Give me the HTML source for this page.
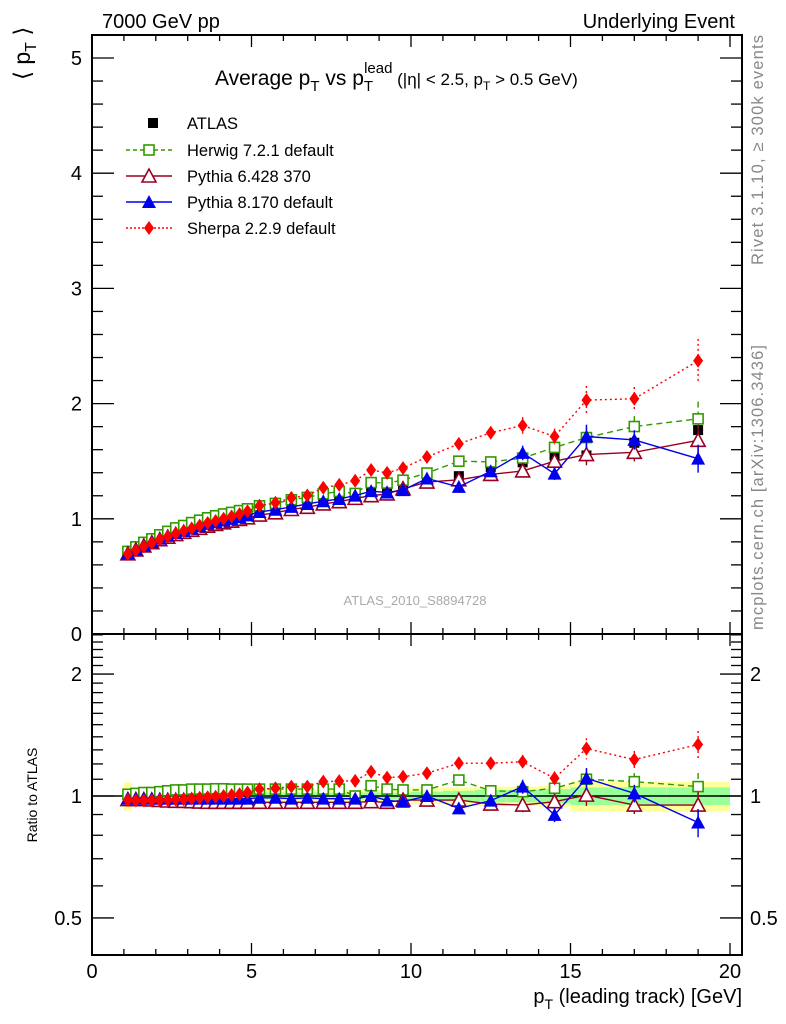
<!DOCTYPE html>
<html><head><meta charset="utf-8"><style>
body{margin:0;background:#fff;}
svg{display:block;font-family:"Liberation Sans",sans-serif;}
</style></head><body>
<svg id="c" width="786" height="1024" viewBox="0 0 786 1024"></svg>
<script>
const xs=[1.125,1.375,1.625,1.875,2.125,2.375,2.625,2.875,3.125,3.375,3.625,3.875,4.125,4.375,4.625,4.875,5.25,5.75,6.25,6.75,7.25,7.75,8.25,8.75,9.25,9.75,10.5,11.5,12.5,13.5,14.5,15.5,17,19];
const xlo=[1,1.25,1.5,1.75,2,2.25,2.5,2.75,3,3.25,3.5,3.75,4,4.25,4.5,4.75,5,5.5,6,6.5,7,7.5,8,8.5,9,9.5,10,11,12,13,14,15,16,18];
const xhi=[1.25,1.5,1.75,2,2.25,2.5,2.75,3,3.25,3.5,3.75,4,4.25,4.5,4.75,5,5.5,6,6.5,7,7.5,8,8.5,9,9.5,10,11,12,13,14,15,16,18,20];
const atlas=[0.71,0.745,0.78,0.81,0.84,0.865,0.89,0.91,0.93,0.95,0.97,0.985,1.0,1.015,1.03,1.045,1.07,1.09,1.12,1.14,1.17,1.19,1.22,1.24,1.26,1.29,1.35,1.37,1.45,1.49,1.55,1.55,1.66,1.77];
const bandTot=[0.08,0.04,0.038,0.036,0.035,0.035,0.035,0.035,0.035,0.035,0.035,0.035,0.035,0.035,0.035,0.035,0.035,0.035,0.035,0.035,0.035,0.035,0.035,0.035,0.035,0.035,0.045,0.05,0.055,0.055,0.06,0.085,0.085,0.085];
const bandStat=[0.025,0.02,0.02,0.02,0.02,0.02,0.02,0.02,0.02,0.02,0.02,0.02,0.02,0.02,0.02,0.02,0.02,0.02,0.02,0.02,0.02,0.02,0.02,0.02,0.02,0.02,0.025,0.03,0.035,0.035,0.04,0.05,0.05,0.05];
const herwigR=[1.01,1.015,1.02,1.02,1.025,1.03,1.035,1.035,1.04,1.04,1.04,1.042,1.042,1.04,1.04,1.04,1.04,1.04,1.04,1.04,1.04,1.04,1.0,1.06,1.04,1.035,1.035,1.095,1.03,1.025,1.045,1.10,1.085,1.055];
const py6R=[0.98,0.98,0.98,0.978,0.975,0.972,0.97,0.97,0.968,0.966,0.965,0.965,0.965,0.965,0.965,0.965,0.965,0.965,0.965,0.965,0.965,0.965,0.965,0.968,0.965,0.977,0.977,0.977,0.955,0.95,0.968,1.005,0.95,0.95];
const py8R=[0.985,0.985,0.985,0.985,0.985,0.985,0.985,0.985,0.985,0.985,0.985,0.985,0.985,0.985,0.985,0.985,0.99,0.99,0.985,0.99,0.985,0.985,0.985,1.0,0.975,0.968,1.0,0.932,0.974,1.055,0.898,1.106,1.015,0.86];
const sherpaR=[0.977,0.975,0.975,0.975,0.977,0.978,0.98,0.982,0.985,0.99,0.993,0.996,1.0,1.005,1.01,1.02,1.04,1.045,1.055,1.055,1.085,1.088,1.09,1.148,1.11,1.116,1.138,1.205,1.205,1.215,1.106,1.31,1.23,1.34];
const errR=[0,0,0,0,0,0,0,0,0,0,0,0,0,0,0,0,0,0,0,0,0,0,0,0.01,0.01,0.01,0.02,0.025,0.03,0.04,0.04,0.06,0.05,0.08];
const yTicks=[0,1,2,3,4,5];
const xTicks=[0,5,10,15,20];
const rTicks=[0.5,1,2];

const S=document.getElementById('c');const NS='http://www.w3.org/2000/svg';
function X(v){return 92+v*31.9;}
function Y(v){return 634-v*115.2;}
function R(r){return 796-405*Math.log10(r);}
function mk(t,a,p){const e=document.createElementNS(NS,t);for(const k in a)e.setAttribute(k,a[k]);(p||S).appendChild(e);return e;}
function tx(s,x,y,sz,anc,fill){const e=mk('text',{x:x,y:y,'font-size':sz,'text-anchor':anc||'start',fill:fill||'#000'});e.textContent=s;return e;}

for(let i=0;i<xs.length;i++){
  const b1=mk('rect',{x:X(xlo[i]),y:R(1+bandTot[i]),width:X(xhi[i])-X(xlo[i]),height:R(1-bandTot[i])-R(1+bandTot[i]),fill:'#ffff99'});
  
  
  const b2=mk('rect',{x:X(xlo[i]),y:R(1+bandStat[i]),width:X(xhi[i])-X(xlo[i]),height:R(1-bandStat[i])-R(1+bandStat[i]),fill:'#99ff99'});
  
  
}
mk('line',{x1:92,x2:742,y1:R(1),y2:R(1),stroke:'#000','stroke-width':1.5});

function marker(type,x,y,col,g){
  if(type==='sq')return mk('rect',{x:x-5,y:y-5,width:10,height:10,fill:col},g);
  if(type==='osq')return mk('rect',{x:x-5,y:y-5,width:10,height:10,fill:'#fff',stroke:col,'stroke-width':1.6},g);
  if(type==='otri')return mk('polygon',{points:`${x},${y-7} ${x-7},${y+6} ${x+7},${y+6}`,fill:'#fff',stroke:col,'stroke-width':1.6},g);
  if(type==='tri')return mk('polygon',{points:`${x},${y-7} ${x-7},${y+6} ${x+7},${y+6}`,fill:col},g);
  if(type==='dia')return mk('polygon',{points:`${x},${y-7} ${x-5},${y} ${x},${y+7} ${x+5},${y}`,fill:col},g);
}
const series=[
 {name:'herwig',ratio:herwigR,col:'#339900',type:'osq',dash:'6,4'},
 {name:'pythia6',ratio:py6R,col:'#990022',type:'otri',dash:''},
 {name:'pythia8',ratio:py8R,col:'#0000ee',type:'tri',dash:''},
 {name:'sherpa',ratio:sherpaR,col:'#ff0000',type:'dia',dash:'2,3'}];

const ga=mk('g',{});
for(let i=0;i<xs.length;i++){const m=marker('sq',X(xs[i]),Y(atlas[i]),'#000',ga);}

for(const s of series){
  const g=mk('g',{});
  const vals=xs.map((x,i)=>s.ratio[i]*atlas[i]);
  const pm=xs.map((x,i)=>X(x)+','+Y(vals[i])).join(' ');
  const pr=xs.map((x,i)=>X(x)+','+R(s.ratio[i])).join(' ');
  mk('polyline',{points:pm,fill:'none',stroke:s.col,'stroke-width':1.4,'stroke-dasharray':s.dash},g);
  mk('polyline',{points:pr,fill:'none',stroke:s.col,'stroke-width':1.4,'stroke-dasharray':s.dash},g);
  for(let i=0;i<xs.length;i++){
    const e=errR[i];
    if(e>0){
      mk('line',{x1:X(xs[i]),x2:X(xs[i]),y1:Y(vals[i]*(1+e)),y2:Y(vals[i]*(1-e)),stroke:s.col,'stroke-width':1.4,'stroke-dasharray':s.dash},g);
      mk('line',{x1:X(xs[i]),x2:X(xs[i]),y1:R(s.ratio[i]*(1+e)),y2:R(s.ratio[i]*(1-e)),stroke:s.col,'stroke-width':1.4,'stroke-dasharray':s.dash},g);
    }
    const m1=marker(s.type,X(xs[i]),Y(vals[i]),s.col,g);
    
    
    const m2=marker(s.type,X(xs[i]),R(s.ratio[i]),s.col,g);
    
    
  }
}

mk('rect',{x:92,y:35,width:650,height:599,fill:'none',stroke:'#000','stroke-width':2});
mk('rect',{x:92,y:634,width:650,height:321,fill:'none',stroke:'#000','stroke-width':2});
for(let v=0;v<=20;v++){
  const L=(v%5===0)?12:6;
  for(const [t,b] of [[35,634],[634,955]]){
    mk('line',{x1:X(v),x2:X(v),y1:t,y2:t+L,stroke:'#000','stroke-width':1.3});
    mk('line',{x1:X(v),x2:X(v),y1:b,y2:b-L,stroke:'#000','stroke-width':1.3});
  }
}
for(const v of xTicks){const t=tx(String(v),X(v),978,20,'middle');}
for(let k=0;k<=26;k++){const v=k*0.2;if(Y(v)<35)continue;const L=(k%5===0)?22:11;
  mk('line',{x1:92,x2:92+L,y1:Y(v),y2:Y(v),stroke:'#000','stroke-width':1.3});
  mk('line',{x1:742,x2:742-L,y1:Y(v),y2:Y(v),stroke:'#000','stroke-width':1.3});}
for(const v of yTicks){const t=tx(String(v),82,Y(v)+7,20,'end');}
const rmin=[0.6,0.7,0.8,0.9,1.1,1.2,1.3,1.4,1.5,1.6,1.7,1.8,1.9,2.1,2.2,2.3,2.4,2.5];
for(const r of rmin){mk('line',{x1:92,x2:103,y1:R(r),y2:R(r),stroke:'#000','stroke-width':1.3});mk('line',{x1:742,x2:731,y1:R(r),y2:R(r),stroke:'#000','stroke-width':1.3});}
for(const r of rTicks){mk('line',{x1:92,x2:114,y1:R(r),y2:R(r),stroke:'#000','stroke-width':1.3});mk('line',{x1:742,x2:720,y1:R(r),y2:R(r),stroke:'#000','stroke-width':1.3});
  const a=tx(String(r),82,R(r)+7,20,'end');
  const b=tx(String(r),750,R(r)+7,20,'start');}
</script>
<div style="position:absolute;left:0;top:0;width:786px;height:1024px;pointer-events:none">
<svg width="786" height="1024" style="font-family:'Liberation Sans',sans-serif">
<text x="102" y="28" font-size="20">7000 GeV pp</text>
<text x="735" y="28" font-size="20" text-anchor="end">Underlying Event</text>
<text x="215" y="85" font-size="21">Average p<tspan font-size="15" dy="6">T</tspan><tspan dy="-6"> vs p</tspan><tspan font-size="15" dy="6">T</tspan><tspan font-size="15" dx="-9" dy="-18">lead</tspan><tspan font-size="17" dy="12"> (|η| &lt; 2.5, p</tspan><tspan font-size="12" dy="5">T</tspan><tspan font-size="17" dy="-5"> &gt; 0.5 GeV)</tspan></text>
<g font-size="16.5">
<rect x="148" y="118" width="10" height="10" fill="#000"/>
<text x="187" y="129">ATLAS</text>
<line x1="126" x2="172" y1="150" y2="150" stroke="#339900" stroke-width="1.4" stroke-dasharray="4,3"/>
<rect x="144" y="145" width="10" height="10" fill="#fff" stroke="#339900" stroke-width="1.6"/>
<text x="187" y="156">Herwig 7.2.1 default</text>
<line x1="126" x2="172" y1="176" y2="176" stroke="#990022" stroke-width="1.4"/>
<polygon points="149,169 142,182 156,182" fill="#fff" stroke="#990022" stroke-width="1.6"/>
<text x="187" y="182">Pythia 6.428 370</text>
<line x1="126" x2="172" y1="202" y2="202" stroke="#0000ee" stroke-width="1.4"/>
<polygon points="149,195 142,208 156,208" fill="#0000ee"/>
<text x="187" y="208">Pythia 8.170 default</text>
<line x1="126" x2="172" y1="228" y2="228" stroke="#ff0000" stroke-width="1.4" stroke-dasharray="2,2"/>
<polygon points="149,221 144,228 149,235 154,228" fill="#ff0000"/>
<text x="187" y="234">Sherpa 2.2.9 default</text>
</g>
<text x="415" y="605" font-size="13" fill="#aaa" text-anchor="middle">ATLAS_2010_S8894728</text>
<text transform="translate(30,80) rotate(-90)" font-size="23">⟨ p<tspan font-size="16" dy="6">T</tspan><tspan dy="-6"> ⟩</tspan></text>
<text transform="translate(37,795) rotate(-90)" font-size="14" text-anchor="middle">Ratio to ATLAS</text>
<text x="742" y="1003" font-size="20" text-anchor="end">p<tspan font-size="14" dy="6">T</tspan><tspan dy="-6"> (leading track) [GeV]</tspan></text>
<text transform="translate(763,265) rotate(-90)" font-size="16.5" fill="#888" textLength="230">Rivet 3.1.10, ≥ 300k events</text>
<text transform="translate(763,630) rotate(-90)" font-size="16.5" fill="#888" textLength="285">mcplots.cern.ch [arXiv:1306.3436]</text>
</svg></div>
</body></html>
